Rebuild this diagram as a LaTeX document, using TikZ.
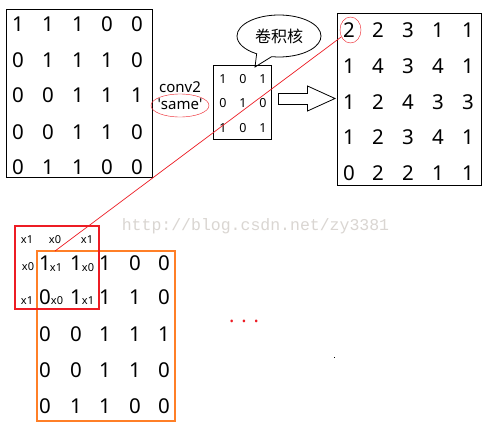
\documentclass[tikz,border=0pt]{standalone}
\usepackage{fontspec}
\setmainfont{Noto Sans}
\newfontfamily\cjk{Noto Sans CJK SC}
\newfontfamily\wmfont{Liberation Mono}
\usetikzlibrary{shapes.geometric,shapes.callouts}
\definecolor{markred}{RGB}{237,28,36}
\definecolor{padorange}{RGB}{255,127,39}
\definecolor{watergray}{RGB}{218,214,210}

\begin{document}
\begin{tikzpicture}[x=1pt,y=-1pt]
  \tikzset{DigitStyle/.style = {
    text          = black,
    inner sep     = 0pt,
    outer sep     = 0pt,
    font          = \fontsize{20.5}{20.5}\selectfont
    }
  }
  \tikzset{KernelDigitStyle/.style = {
    DigitStyle,
    font          = \fontsize{12.5}{12.5}\selectfont
    }
  }
  \tikzset{WeightStyle/.style = {
    text          = black,
    inner sep     = 0pt,
    outer sep     = 0pt,
    font          = \fontsize{11}{11}\selectfont
    }
  }
  \tikzset{BoxStyle/.style = {
    shape         = rectangle,
    line width    = 1pt,
    inner sep     = 0pt,
    outer sep     = 0pt
    }
  }
  \tikzset{FrameStyle/.style = {
    BoxStyle,
    line width    = 1.3pt
    }
  }
  \useasboundingbox (0,0) rectangle (494,431);
  \fill[white] (0,0) rectangle (494,431);

  % watermark
  \node[text=watergray, font=\wmfont\fontsize{16.5}{16.5}\selectfont, inner sep=0pt] (Mark) at (255.5,226) {http://blog.csdn.net/zy3381};

  % input matrix
  \node[BoxStyle, draw=black, minimum width=146, minimum height=168] (InBox) at (79.5,93.5) {};
	\node[DigitStyle](In11) at (18, 24) {1};
	\node[DigitStyle](In12) at (48, 24) {1};
	\node[DigitStyle](In13) at (78, 24) {1};
	\node[DigitStyle](In14) at (107, 24) {0};
	\node[DigitStyle](In15) at (137, 24) {0};
	\node[DigitStyle](In21) at (18, 60) {0};
	\node[DigitStyle](In22) at (48, 60) {1};
	\node[DigitStyle](In23) at (78, 60) {1};
	\node[DigitStyle](In24) at (107, 60) {1};
	\node[DigitStyle](In25) at (137, 60) {0};
	\node[DigitStyle](In31) at (18, 95) {0};
	\node[DigitStyle](In32) at (48, 95) {0};
	\node[DigitStyle](In33) at (78, 95) {1};
	\node[DigitStyle](In34) at (107, 95) {1};
	\node[DigitStyle](In35) at (137, 95) {1};
	\node[DigitStyle](In41) at (18, 132) {0};
	\node[DigitStyle](In42) at (48, 132) {0};
	\node[DigitStyle](In43) at (78, 132) {1};
	\node[DigitStyle](In44) at (107, 132) {1};
	\node[DigitStyle](In45) at (137, 132) {0};
	\node[DigitStyle](In51) at (18, 167) {0};
	\node[DigitStyle](In52) at (48, 167) {1};
	\node[DigitStyle](In53) at (78, 167) {1};
	\node[DigitStyle](In54) at (107, 167) {0};
	\node[DigitStyle](In55) at (137, 167) {0};

  % conv2 'same'
  \node[inner sep=0pt, font=\fontsize{15}{15}\selectfont] (Conv) at (180, 87) {conv2};
  \node[inner sep=0pt, font=\fontsize{15}{15}\selectfont] (Same) at (180, 104) {\textquotesingle same\textquotesingle};
  \node[ellipse, draw=markred, minimum width=58, minimum height=23, inner sep=0pt] (SameRing) at (180, 105.5) {};

  % kernel
  \node[BoxStyle, draw=black, minimum width=58, minimum height=74] (KerBox) at (242.5,102.5) {};
	\node[KernelDigitStyle](Ker11) at (223, 79) {1};
	\node[KernelDigitStyle](Ker12) at (243, 79) {0};
	\node[KernelDigitStyle](Ker13) at (263, 79) {1};
	\node[KernelDigitStyle](Ker21) at (223, 103) {0};
	\node[KernelDigitStyle](Ker22) at (243, 103) {1};
	\node[KernelDigitStyle](Ker23) at (263, 103) {0};
	\node[KernelDigitStyle](Ker31) at (223, 128) {1};
	\node[KernelDigitStyle](Ker32) at (243, 128) {0};
	\node[KernelDigitStyle](Ker33) at (263, 128) {1};

  % callout
  \node[ellipse callout, draw=black, line width=0.8pt, minimum width=84, minimum height=42, inner sep=0pt,
        callout absolute pointer={(255,67)}, callout pointer arc=22,
        font=\cjk\fontsize{16}{16}\selectfont] (Bubble) at (279,36) {卷积核};

  % block arrow
  \draw[black, line width=0.8pt, line join=miter]
    (278.5,93.5) -- (307.5,93.5) -- (307.5,86) -- (335,98.5) -- (307.5,111) -- (307.5,104.5) -- (278.5,104.5) -- cycle;

  % output matrix
  \node[BoxStyle, draw=black, minimum width=144, minimum height=172] (OutBox) at (409.5,99.5) {};
	\node[DigitStyle](Out11) at (349, 30) {2};
	\node[DigitStyle](Out12) at (378, 30) {2};
	\node[DigitStyle](Out13) at (408, 30) {3};
	\node[DigitStyle](Out14) at (438, 30) {1};
	\node[DigitStyle](Out15) at (468, 30) {1};
	\node[DigitStyle](Out21) at (349, 66) {1};
	\node[DigitStyle](Out22) at (378, 66) {4};
	\node[DigitStyle](Out23) at (408, 66) {3};
	\node[DigitStyle](Out24) at (438, 66) {4};
	\node[DigitStyle](Out25) at (468, 66) {1};
	\node[DigitStyle](Out31) at (349, 102) {1};
	\node[DigitStyle](Out32) at (378, 102) {2};
	\node[DigitStyle](Out33) at (408, 102) {4};
	\node[DigitStyle](Out34) at (438, 102) {3};
	\node[DigitStyle](Out35) at (468, 102) {3};
	\node[DigitStyle](Out41) at (349, 137) {1};
	\node[DigitStyle](Out42) at (378, 137) {2};
	\node[DigitStyle](Out43) at (408, 137) {3};
	\node[DigitStyle](Out44) at (438, 137) {4};
	\node[DigitStyle](Out45) at (468, 137) {1};
	\node[DigitStyle](Out51) at (349, 173) {0};
	\node[DigitStyle](Out52) at (378, 173) {2};
	\node[DigitStyle](Out53) at (408, 173) {2};
	\node[DigitStyle](Out54) at (438, 173) {1};
	\node[DigitStyle](Out55) at (468, 173) {1};
  \node[ellipse, draw=markred, minimum width=21, minimum height=26, inner sep=0pt] (OutRing) at (350.5,30) {};

  % padded input with sliding window
  \node[FrameStyle, draw=padorange, minimum width=138, minimum height=170] (PadBox) at (106,336) {};
  \node[FrameStyle, draw=markred, minimum width=84, minimum height=83] (Window) at (57,267.5) {};
	\node[DigitStyle](Low11) at (45, 263) {1};
	\node[DigitStyle](Low12) at (76, 263) {1};
	\node[DigitStyle](Low13) at (105, 263) {1};
	\node[DigitStyle](Low14) at (135, 263) {0};
	\node[DigitStyle](Low15) at (164, 263) {0};
	\node[DigitStyle](Low21) at (45, 297) {0};
	\node[DigitStyle](Low22) at (76, 297) {1};
	\node[DigitStyle](Low23) at (105, 297) {1};
	\node[DigitStyle](Low24) at (135, 297) {1};
	\node[DigitStyle](Low25) at (164, 297) {0};
	\node[DigitStyle](Low31) at (45, 334) {0};
	\node[DigitStyle](Low32) at (76, 334) {0};
	\node[DigitStyle](Low33) at (105, 334) {1};
	\node[DigitStyle](Low34) at (135, 334) {1};
	\node[DigitStyle](Low35) at (164, 334) {1};
	\node[DigitStyle](Low41) at (45, 370) {0};
	\node[DigitStyle](Low42) at (76, 370) {0};
	\node[DigitStyle](Low43) at (105, 370) {1};
	\node[DigitStyle](Low44) at (135, 370) {1};
	\node[DigitStyle](Low45) at (164, 370) {0};
	\node[DigitStyle](Low51) at (45, 406) {0};
	\node[DigitStyle](Low52) at (76, 406) {1};
	\node[DigitStyle](Low53) at (105, 406) {1};
	\node[DigitStyle](Low54) at (135, 406) {0};
	\node[DigitStyle](Low55) at (164, 406) {0};
	\node[WeightStyle](W1) at (27, 240) {x1};
	\node[WeightStyle](W2) at (55, 240) {x0};
	\node[WeightStyle](W3) at (87, 240) {x1};
	\node[WeightStyle](W4) at (28, 267) {x0};
	\node[WeightStyle](W5) at (56, 268) {x1};
	\node[WeightStyle](W6) at (88, 268) {x0};
	\node[WeightStyle](W7) at (27, 301) {x1};
	\node[WeightStyle](W8) at (57, 301) {x0};
	\node[WeightStyle](W9) at (88, 301) {x1};

  % link from window to result
  \coordinate (LinkEnd) at (55,251);
  \draw[markred, line width=0.7pt] (OutRing) -- (LinkEnd);

  % more steps
  \node[text=markred, inner sep=0pt, font=\fontsize{20}{20}\selectfont] (Dots) at (244, 321) {. . .};
  \fill[black] (333.5,356.5) rectangle (335,358);

\end{tikzpicture}
\end{document}
